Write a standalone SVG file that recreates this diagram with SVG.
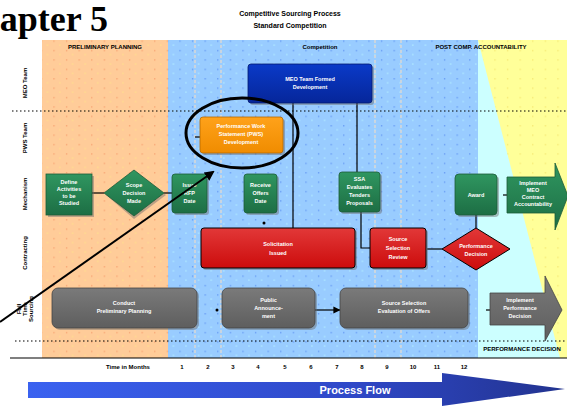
<svg xmlns="http://www.w3.org/2000/svg" width="567" height="406" viewBox="0 0 567 406">
<style>
.t{font-family:"Liberation Sans",Arial,sans-serif;font-weight:bold}
.nt{font-family:"Liberation Sans",Arial,sans-serif;font-weight:bold;font-size:5.5px;fill:#fff;text-anchor:middle}
.lbl{font-family:"Liberation Sans",Arial,sans-serif;font-weight:bold;font-size:6px;fill:#000;text-anchor:middle}
.conn{stroke:#000;stroke-width:1.2;fill:none}
.vd{stroke:#d8d8d8;stroke-width:1.5;stroke-dasharray:3 2}
.hd{stroke:#000;stroke-width:1.2;stroke-dasharray:1.5 2.5}
.shadow{fill:#6a6a6a;opacity:0.45}
.green{fill:url(#gGreen);stroke:#1d5c38;stroke-width:0.8}
.red{fill:url(#gRed);stroke:#000;stroke-width:1}
.gray{fill:url(#gGray);stroke:#444;stroke-width:0.8}
</style>
<defs>
<pattern id="dotsO" width="12.6" height="9.4" patternUnits="userSpaceOnUse">
<rect x="3" y="3" width="1.2" height="1.2" fill="#f59a6a"/>
<rect x="9" y="7" width="1.2" height="1.2" fill="#ffe38a"/>
</pattern>
<pattern id="dotsB" width="12.6" height="9.4" patternUnits="userSpaceOnUse">
<rect x="3" y="3" width="1.2" height="1.2" fill="#5a8cf0"/>
<rect x="9" y="7" width="1.2" height="1.2" fill="#b8f4ff"/>
</pattern>
<pattern id="dotsY" width="12.6" height="9.4" patternUnits="userSpaceOnUse">
<rect x="3" y="3" width="1.2" height="1.2" fill="#f2e36a"/>
</pattern>
<linearGradient id="gGreen" x1="0" y1="0" x2="0" y2="1">
<stop offset="0" stop-color="#2f9660"/><stop offset="1" stop-color="#1d6e44"/>
</linearGradient>
<linearGradient id="gRed" x1="0" y1="0" x2="0" y2="1">
<stop offset="0" stop-color="#e23838"/><stop offset="1" stop-color="#cc0c0c"/>
</linearGradient>
<linearGradient id="gGray" x1="0" y1="0" x2="0" y2="1">
<stop offset="0" stop-color="#7a7a7a"/><stop offset="1" stop-color="#5e5e5e"/>
</linearGradient>
<linearGradient id="gBlue" x1="0" y1="0" x2="0" y2="1">
<stop offset="0" stop-color="#0a3ac8"/><stop offset="1" stop-color="#06269a"/>
</linearGradient>
<linearGradient id="gOrange" x1="0" y1="0" x2="0" y2="1">
<stop offset="0" stop-color="#ffa21a"/><stop offset="1" stop-color="#f08c00"/>
</linearGradient>
<linearGradient id="gFlow" x1="0" y1="0" x2="1" y2="0">
<stop offset="0" stop-color="#3a62f0"/><stop offset="0.6" stop-color="#2f48c8"/><stop offset="1" stop-color="#22338f"/>
</linearGradient>
<marker id="arr" markerWidth="6" markerHeight="6" refX="5.5" refY="3" orient="auto" markerUnits="strokeWidth">
<path d="M0,0 L6,3 L0,6 z" fill="#000"/>
</marker>
<marker id="bigArr" markerWidth="5" markerHeight="5" refX="4" refY="2.5" orient="auto" markerUnits="strokeWidth">
<path d="M0,0 L5,2.5 L0,5 z" fill="#000"/>
</marker>
</defs>

<!-- header text -->
<text class="t" x="108" y="31" text-anchor="end" style="font-family:'Liberation Serif','Times New Roman',serif;font-size:36px;font-weight:bold">Chapter 5</text>
<text class="t" x="290" y="16" font-size="7" text-anchor="middle">Competitive Sourcing Process</text>
<text class="t" x="290" y="28" font-size="7" text-anchor="middle">Standard Competition</text>

<!-- background panels -->
<g id="panels">
<rect x="42" y="40" width="126" height="318" fill="#ffcc99"/>
<rect x="42" y="40" width="126" height="318" fill="url(#dotsO)"/>
<rect x="168" y="40" width="310" height="318" fill="#99ccff"/>
<rect x="168" y="40" width="310" height="318" fill="url(#dotsB)"/>
<rect x="478" y="40" width="89" height="318" fill="#ccffff"/>
<polygon points="478,40 567,40 567,358 560,358" fill="#ffff99"/>
<polygon points="478,40 567,40 567,358 560,358" fill="url(#dotsY)"/>
<text class="lbl" x="105" y="49">PRELIMINARY PLANNING</text>
<text class="lbl" x="320" y="49">Competition</text>
<text class="lbl" x="481" y="49" font-size="5" text-anchor="start">POST COMP. ACCOUNTABILITY</text>
<line class="vd" x1="195" y1="40" x2="195" y2="358"/>
<line class="vd" x1="221" y1="40" x2="221" y2="358"/>
<line class="vd" x1="375" y1="40" x2="375" y2="358"/>
<line class="vd" x1="401" y1="40" x2="401" y2="358"/>
<line class="hd" x1="12" y1="111" x2="567" y2="111"/>
<line class="hd" x1="15" y1="341" x2="567" y2="341"/>
<line x1="10" y1="358" x2="567" y2="358" stroke="#000" stroke-width="1.2"/>
</g>

<!-- row labels -->
<g id="rowlabels" class="lbl" font-size="6">
<text transform="translate(27,83) rotate(-90)">MEO Team</text>
<text transform="translate(27,138) rotate(-90)">PWS Team</text>
<text transform="translate(27,194) rotate(-90)">Mechanism</text>
<text transform="translate(27,253) rotate(-90)">Contracting</text>
<text transform="translate(21,309) rotate(-90)">Full</text>
<text transform="translate(27,309) rotate(-90)">Time</text>
<text transform="translate(33,309) rotate(-90)">Sourcing</text>
</g>

<!-- timeline -->
<g id="timeline" class="lbl" font-size="6">
<text x="128" y="369">Time in Months</text>
<text x="182" y="369">1</text><text x="208" y="369">2</text><text x="233" y="369">3</text>
<text x="258" y="369">4</text><text x="285" y="369">5</text><text x="311" y="369">6</text>
<text x="337" y="369">7</text><text x="362" y="369">8</text><text x="387" y="369">9</text>
<text x="413" y="369">10</text><text x="437" y="369">11</text><text x="464" y="369">12</text>
</g>

<!-- connectors -->
<g id="connectors">
<line class="conn" x1="293" y1="103" x2="293" y2="228"/>
<line class="conn" x1="357" y1="103" x2="357" y2="172"/>
<polyline class="conn" points="361,212 361,248 370,248"/>
<line class="conn" x1="476" y1="215" x2="476" y2="228"/>
<line class="conn" x1="427" y1="249" x2="442" y2="249"/>
<line class="conn" x1="92" y1="193" x2="104" y2="193"/>
<line class="conn" x1="164" y1="193" x2="172" y2="193"/>
<line class="conn" x1="315" y1="310" x2="340" y2="310" marker-end="url(#arr)"/>
<line class="conn" x1="195" y1="137" x2="200" y2="137"/>
<line class="conn" x1="503" y1="195" x2="507" y2="195"/>
<line class="conn" x1="486" y1="310" x2="490" y2="310"/>
<circle cx="264" cy="223" r="1.5" fill="#000"/>
<circle cx="217" cy="310" r="1.5" fill="#000"/>
</g>

<!-- MEO row -->
<g id="n-meo">
<rect x="250" y="66" width="124" height="39" rx="3" class="shadow"/>
<rect x="248" y="64" width="124" height="39" rx="3" fill="url(#gBlue)" stroke="#021a70" stroke-width="0.8"/>
<text class="nt" x="310" y="81">MEO Team Formed</text>
<text class="nt" x="310" y="89">Development</text>
</g>

<!-- PWS row -->
<g id="n-pws">
<rect x="202" y="119" width="83" height="36" rx="3" class="shadow"/>
<rect x="200" y="117" width="83" height="36" rx="3" fill="url(#gOrange)" stroke="#b86a00" stroke-width="0.8"/>
<text class="nt" x="241" y="128">Performance Work</text>
<text class="nt" x="241" y="136">Statement (PWS)</text>
<text class="nt" x="241" y="144">Development</text>
</g>

<!-- green row -->
<g id="n-g1">
<rect x="48" y="176" width="46" height="41" class="shadow"/>
<rect x="46" y="174" width="46" height="41" class="green"/>
<text class="nt" x="69" y="184">Define</text>
<text class="nt" x="69" y="191">Activities</text>
<text class="nt" x="69" y="198">to be</text>
<text class="nt" x="69" y="205">Studied</text>
</g>
<g id="n-d1">
<polygon points="134,173 166,195 134,219 106,195" class="shadow"/>
<polygon points="134,170 164,193 134,216 104,193" class="green"/>
<text class="nt" x="134" y="187">Scope</text>
<text class="nt" x="134" y="195">Decision</text>
<text class="nt" x="134" y="203">Made</text>
</g>
<g id="n-g2">
<rect x="174" y="176" width="35" height="39" rx="3" class="shadow"/>
<rect x="172" y="174" width="35" height="39" rx="3" class="green"/>
<text class="nt" x="189.5" y="187">Issue</text>
<text class="nt" x="189.5" y="195">RFP</text>
<text class="nt" x="189.5" y="203">Date</text>
</g>
<g id="n-g3">
<rect x="246" y="176" width="33" height="39" rx="3" class="shadow"/>
<rect x="244" y="174" width="33" height="39" rx="3" class="green"/>
<text class="nt" x="260.5" y="187">Receive</text>
<text class="nt" x="260.5" y="195">Offers</text>
<text class="nt" x="260.5" y="203">Date</text>
</g>
<g id="n-g4">
<rect x="341" y="174" width="41" height="40" rx="3" class="shadow"/>
<rect x="339" y="172" width="41" height="40" rx="3" class="green"/>
<text class="nt" x="359.5" y="181">SSA</text>
<text class="nt" x="359.5" y="189">Evaluates</text>
<text class="nt" x="359.5" y="197">Tenders</text>
<text class="nt" x="359.5" y="205">Proposals</text>
</g>
<g id="n-g5">
<rect x="457" y="176" width="42" height="41" rx="4" class="shadow"/>
<rect x="455" y="174" width="42" height="41" rx="4" class="green"/>
<text class="nt" x="476" y="197">Award</text>
</g>
<g id="n-g6">
<polygon points="507,177 555,177 555,163 568,196 555,230 555,213 507,213" class="green" stroke="#000" stroke-width="1"/>
<text class="nt" x="533" y="185">Implement</text>
<text class="nt" x="533" y="192">MEO</text>
<text class="nt" x="533" y="199">Contract</text>
<text class="nt" x="533" y="206">Accountability</text>
</g>

<!-- red row -->
<g id="n-r1">
<rect x="203" y="230" width="154" height="40" rx="3" class="shadow"/>
<rect x="201" y="228" width="154" height="40" rx="3" class="red"/>
<text class="nt" x="278" y="246">Solicitation</text>
<text class="nt" x="278" y="255">Issued</text>
</g>
<g id="n-r2">
<rect x="372" y="230" width="56" height="40" rx="3" class="shadow"/>
<rect x="370" y="228" width="56" height="40" rx="3" class="red"/>
<text class="nt" x="398" y="241">Source</text>
<text class="nt" x="398" y="250">Selection</text>
<text class="nt" x="398" y="259">Review</text>
</g>
<g id="n-rd">
<polygon points="476,228 510,249 476,270 442,249" class="red"/>
<text class="nt" x="476" y="248">Performance</text>
<text class="nt" x="476" y="256">Decision</text>
</g>

<!-- gray row -->
<g id="n-gr1">
<rect x="54" y="290" width="145" height="40" rx="6" class="shadow"/>
<rect x="52" y="288" width="145" height="40" rx="6" class="gray"/>
<text class="nt" x="124" y="305">Conduct</text>
<text class="nt" x="124" y="313">Preliminary Planning</text>
</g>
<g id="n-gr2">
<rect x="224" y="290" width="93" height="40" rx="6" class="shadow"/>
<rect x="222" y="288" width="93" height="40" rx="6" class="gray"/>
<text class="nt" x="268.5" y="302">Public</text>
<text class="nt" x="268.5" y="310">Announce-</text>
<text class="nt" x="268.5" y="318">ment</text>
</g>
<g id="n-gr3">
<rect x="342" y="290" width="128" height="40" rx="6" class="shadow"/>
<rect x="340" y="288" width="128" height="40" rx="6" class="gray"/>
<text class="nt" x="404" y="305">Source Selection</text>
<text class="nt" x="404" y="313">Evaluation of Offers</text>
</g>
<g id="n-gr4">
<polygon points="490,293 545,293 545,276 562,310 545,341 545,325 490,325" class="gray" stroke="#333"/>
<text class="nt" x="520" y="302">Implement</text>
<text class="nt" x="520" y="310">Performance</text>
<text class="nt" x="520" y="318">Decision</text>
<text class="lbl" x="522" y="351" font-size="5.5">PERFORMANCE DECISION</text>
</g>

<!-- callout -->
<g id="callout">
<ellipse cx="242" cy="133" rx="56" ry="35" fill="none" stroke="#000" stroke-width="3"/>
<line x1="0" y1="322" x2="213" y2="172" stroke="#000" stroke-width="2" marker-end="url(#bigArr)"/>
</g>

<!-- process flow arrow -->
<g id="processflow">
<polygon points="28,382 442,382 442,373 565,389 442,406 442,398 28,398" fill="url(#gFlow)"/>
<text class="t" x="355" y="394" font-size="11" fill="#fff" text-anchor="middle">Process Flow</text>
</g>
</svg>
